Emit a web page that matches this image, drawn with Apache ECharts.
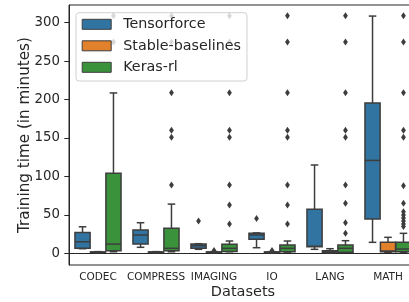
<!DOCTYPE html>
<html lang="en">

<head>
    <meta charset="UTF-8">
    <title>Training time per dataset</title>
    <script src="https://cdn.jsdelivr.net/npm/echarts@6/dist/echarts.min.js"></script>
</head>

<body style="margin: 0;">
    <div id="main" style="width: 409px; height: 302px;"></div>

    <script type="text/javascript">
        const categories = ['CODEC', 'COMPRESS', 'IMAGING', 'IO', 'LANG', 'MATH'];
        const yTicks = [0, 50, 100, 150, 200, 250, 300];

        // [min, q1, median, q3, max] for each dataset
        const tensorforce = [
            [6, 6.5, 15, 27, 34.5],
            [7.8, 12, 23.8, 30.3, 39.8],
            [5.2, 6.5, 9.9, 12, 12.5],
            [7.3, 18.2, 23.8, 26, 26.5],
            [5.2, 8.7, 9.2, 57.2, 114.9],
            [14.3, 44.5, 120.8, 195.6, 308.6]
        ];
        const stableBaselines = [
            [0.8, 1.2, 1.5, 1.8, 2.2],
            [0.8, 1.2, 1.5, 1.8, 2.2],
            [0.8, 1.2, 1.5, 1.8, 2.2],
            [0.8, 1.2, 1.5, 1.8, 2.2],
            [0.8, 1, 2, 3.4, 6],
            [1.3, 2, 3, 14.3, 20.8]
        ];
        const kerasRl = [
            [2, 3.4, 12, 104.3, 208.6],
            [2, 3.4, 6.5, 32.5, 64],
            [2, 2.2, 6.5, 11.7, 16],
            [1.5, 2, 6.5, 10.8, 16],
            [1.3, 1.5, 6.5, 10.8, 16.4],
            [1.3, 2, 5.6, 14.3, 26]
        ];

        // outliers for each dataset
        const tensorforceOut = [[], [], [42], [45.4], [], []];
        const stableOut = [[], [], [3.5], [3.5], [], []];
        const kerasOut = [
            [309, 275],
            [309, 275, 209, 160, 151, 88.8],
            [309, 275, 209, 160, 151, 88.8, 62.7, 38],
            [309, 275, 209, 160, 151, 88.8, 62.7, 38],
            [309, 275, 209, 160, 151, 88.8, 65, 39.8, 26],
            [309, 275, 209, 160, 151, 88, 65, 54, 50, 46, 42, 38, 35]
        ];

        const edge = '#3d3d3d';
        const ink = '#262626';
        const font = 'DejaVu Sans';

        const groups = [
            { name: 'Tensorforce', color: '#3274a1', boxes: tensorforce, out: tensorforceOut },
            { name: 'Stable-baselines', color: '#e1812c', boxes: stableBaselines, out: stableOut },
            { name: 'Keras-rl', color: '#3a923a', boxes: kerasRl, out: kerasOut }
        ];

        // seaborn style dodge: 3 boxes share 80% of the band
        function slotX(api, i, slot) {
            const band = api.size([1, 0])[0];
            const step = band * 0.8 / 3;
            return { x: api.coord([i, 0])[0] + (slot - 1) * step, w: step * 0.98 };
        }

        function boxItem(slot) {
            return function (params, api) {
                const i = api.value(0);
                const s = slotX(api, i, slot);
                const x = s.x, w = s.w;
                const y = k => api.coord([i, api.value(k)])[1];
                const lo = y(1), q1 = y(2), md = y(3), q3 = y(4), hi = y(5);
                const line = { stroke: edge, lineWidth: 1.5 };
                const cap = w / 4;
                return {
                    type: 'group',
                    children: [
                        { type: 'line', shape: { x1: x, y1: q3, x2: x, y2: hi }, style: line },
                        { type: 'line', shape: { x1: x, y1: q1, x2: x, y2: lo }, style: line },
                        { type: 'line', shape: { x1: x - cap, y1: hi, x2: x + cap, y2: hi }, style: line },
                        { type: 'line', shape: { x1: x - cap, y1: lo, x2: x + cap, y2: lo }, style: line },
                        {
                            type: 'rect',
                            shape: { x: x - w / 2, y: q3, width: w, height: q1 - q3 },
                            style: { fill: api.visual('color'), stroke: edge, lineWidth: 1.5 }
                        },
                        { type: 'line', shape: { x1: x - w / 2, y1: md, x2: x + w / 2, y2: md }, style: line }
                    ]
                };
            };
        }

        function outlierItem(slot) {
            return function (params, api) {
                const i = api.value(0);
                const x = slotX(api, i, slot).x;
                const y = api.coord([i, api.value(1)])[1];
                return {
                    type: 'polygon',
                    shape: { points: [[x, y - 3.5], [x + 2.4, y], [x, y + 3.5], [x - 2.4, y]] },
                    style: { fill: edge }
                };
            };
        }

        let series = [];
        groups.forEach((g, slot) => {
            series.push({
                name: g.name,
                type: 'custom',
                renderItem: boxItem(slot),
                itemStyle: { color: g.color },
                encode: { x: 0, y: [1, 2, 3, 4, 5] },
                data: g.boxes.map((b, i) => [i].concat(b))
            });
            let pts = [];
            g.out.forEach((list, i) => list.forEach(v => pts.push([i, v])));
            series.push({
                name: g.name + ' outliers',
                type: 'custom',
                renderItem: outlierItem(slot),
                itemStyle: { color: edge },
                encode: { x: 0, y: 1 },
                data: pts
            });
        });

        let myChart = echarts.init(document.getElementById('main'));

        let options = {
            animation: false,
            textStyle: { fontFamily: font },
            grid: {
                left: 69,
                right: -8,
                top: 5,
                bottom: 37,
                show: true,
                borderColor: ink,
                borderWidth: 1,
                outerBoundsMode: 'none'
            },
            legend: {
                orient: 'vertical',
                left: 76,
                top: 12.7,
                padding: [3.6, 6, 5.7, 5.7],
                itemGap: 5.5,
                itemWidth: 29,
                itemHeight: 10,
                icon: 'rect',
                backgroundColor: 'rgba(255,255,255,0.8)',
                borderColor: '#d0d0d0',
                borderWidth: 1,
                borderRadius: 3,
                textStyle: {
                    fontFamily: font,
                    fontSize: 14.3,
                    lineHeight: 16,
                    color: ink,
                    padding: [0, 0, 0, 7]
                },
                data: groups.map(g => ({
                    name: g.name,
                    itemStyle: { color: g.color, borderColor: edge, borderWidth: 1 }
                }))
            },
            xAxis: {
                type: 'category',
                data: categories,
                name: 'Datasets',
                nameLocation: 'middle',
                nameGap: 20,
                nameMoveOverlap: false,
                nameTextStyle: { fontFamily: font, fontSize: 14.5, color: ink },
                axisLine: { lineStyle: { color: ink, width: 1 } },
                axisTick: { alignWithLabel: true, length: 4.7, lineStyle: { color: ink } },
                axisLabel: { interval: 0, fontFamily: font, fontSize: 10.5, color: ink, margin: 7 },
                splitLine: { show: false }
            },
            yAxis: {
                type: 'value',
                min: -15.2,
                max: 323,
                name: 'Training time (in minutes)',
                nameLocation: 'middle',
                nameGap: 36,
                nameMoveOverlap: false,
                nameTextStyle: { fontFamily: font, fontSize: 15.2, color: ink },
                axisLine: { show: true, lineStyle: { color: ink, width: 1 } },
                axisTick: { show: true, length: 4.7, customValues: yTicks, lineStyle: { color: ink } },
                axisLabel: { fontFamily: font, fontSize: 13.3, color: ink, margin: 9, customValues: yTicks },
                splitLine: { show: false }
            },
            series: series
        };

        myChart.setOption(options);
    </script>
</body>

</html>
